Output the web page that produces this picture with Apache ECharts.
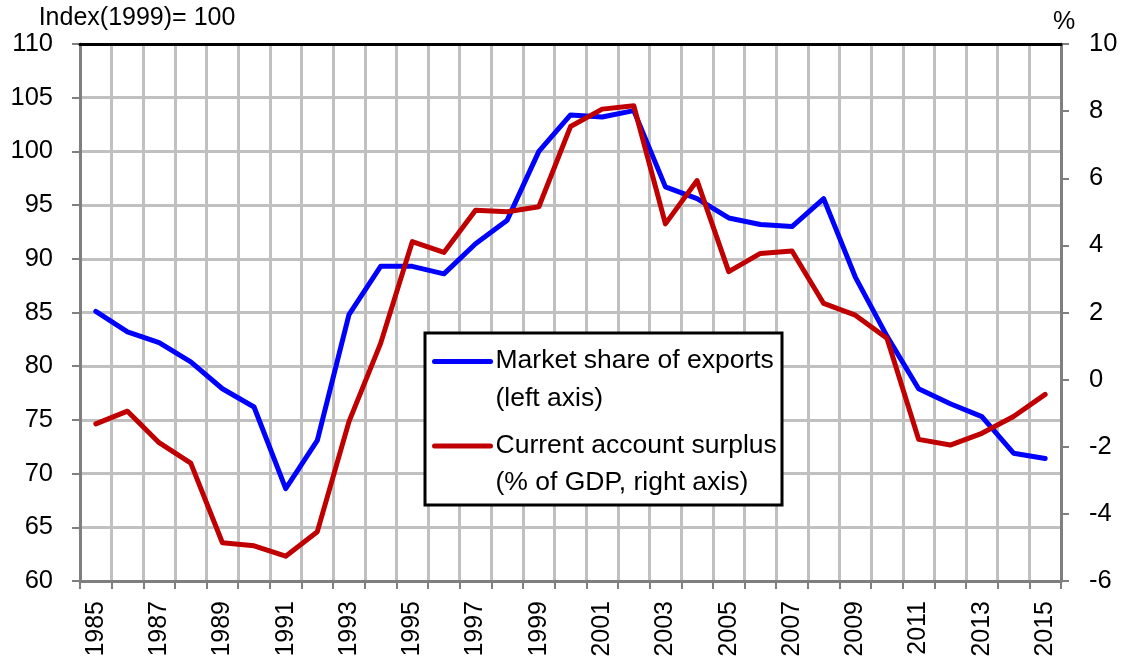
<!DOCTYPE html>
<html>
<head>
<meta charset="utf-8">
<title>Market share and current account</title>
<script src="https://cdn.jsdelivr.net/npm/echarts@6/dist/echarts.min.js"></script>
<style>
  html, body { margin: 0; padding: 0; background: #fff; }
  #chart { width: 1126px; height: 661px; }
</style>
</head>
<body>
<div id="chart"></div>
<script>
// values
var years = ["1985","1986","1987","1988","1989","1990","1991","1992","1993","1994",
  "1995","1996","1997","1998","1999","2000","2001","2002","2003","2004",
  "2005","2006","2007","2008","2009","2010","2011","2012","2013","2014","2015"];
var marketShare = [85.1, 83.2, 82.2, 80.4, 77.9, 76.2, 68.6, 73.1, 84.8, 89.3,
  89.3, 88.6, 91.4, 93.6, 100.0, 103.4, 103.2, 103.8, 96.7, 95.6,
  93.8, 93.2, 93.0, 95.6, 88.3, 82.8, 77.9, 76.5, 75.3, 71.9, 71.4];
var currentAccount = [-1.32, -0.94, -1.88, -2.49, -4.86, -4.95, -5.26, -4.53, -1.25, 1.08,
  4.11, 3.79, 5.05, 5.0, 5.15, 7.54, 8.06, 8.16, 4.64, 5.93,
  3.22, 3.76, 3.83, 2.27, 1.92, 1.23, -1.78, -1.95, -1.6, -1.1, -0.44];
var seriesNames = ["Market share of exports", "Current account surplus"];
var seriesNotes = ["(left axis)", "(% of GDP, right axis)"];

var font = "'Liberation Sans', Arial, sans-serif";
var gridGray = "#c0c0c0", axisGray = "#7f7f7f";

var chart = echarts.init(document.getElementById("chart"));

var option = {
  animation: false,
  textStyle: { fontFamily: font, color: "#000" },
  grid: {
    left: 80, right: 65, top: 44, bottom: 80,
    containLabel: false, outerBoundsMode: "none"
  },
  legend: {
    orient: "vertical",
    left: 432, top: 347.5, padding: 0,
    itemWidth: 56, itemHeight: 14, itemGap: 20,
    z: 5,
    data: seriesNames,
    itemStyle: { opacity: 0 },
    lineStyle: { width: 5, cap: "round" },
    formatter: function (name) {
      var i = seriesNames.indexOf(name);
      return "{a|" + name + "}\n{b|" + seriesNotes[i] + "}";
    },
    textStyle: {
      rich: {
        a: { fontSize: 26.5, fontFamily: font, color: "#000", lineHeight: 74 },
        b: { fontSize: 26.5, fontFamily: font, color: "#000", lineHeight: 1 }
      }
    }
  },
  graphic: [{
    type: "rect", z: 4,
    shape: { x: 425, y: 333, width: 357, height: 172 },
    style: { fill: "#fff", stroke: "#000", lineWidth: 3 }
  }],
  xAxis: [{
    type: "category",
    data: years,
    boundaryGap: true,
    axisLine: { onZero: false, lineStyle: { color: axisGray, width: 3 } },
    axisTick: { show: true, interval: 0, length: 8, lineStyle: { color: axisGray, width: 2 } },
    axisLabel: { interval: 1, rotate: 90, margin: 20, fontSize: 25, fontFamily: font, color: "#000" },
    splitLine: { show: true, interval: 0, lineStyle: { color: gridGray, width: 3 } }
  }, {
    // top edge of the plot area
    type: "category",
    data: years,
    position: "top",
    z: 1,
    axisLine: { onZero: false, lineStyle: { color: "#000", width: 3 } },
    axisTick: { show: false },
    axisLabel: { show: false },
    splitLine: { show: false }
  }],
  yAxis: [{
    type: "value",
    min: 60, max: 110, interval: 5,
    name: "Index(1999)= 100",
    nameLocation: "end",
    nameGap: 9,
    nameTextStyle: { fontSize: 25, fontFamily: font, color: "#000", padding: [0, 0, 0, 114] },
    axisLine: { show: true, lineStyle: { color: axisGray, width: 3 } },
    axisTick: { show: true, length: 8, lineStyle: { color: axisGray, width: 2 } },
    axisLabel: { margin: 27, fontSize: 25.5, fontFamily: font, color: "#000" },
    splitLine: { show: true, lineStyle: { color: gridGray, width: 3 } }
  }, {
    type: "value",
    position: "right",
    min: -6, max: 10, interval: 2,
    name: "%",
    nameLocation: "end",
    nameGap: 9,
    nameTextStyle: { fontSize: 25, fontFamily: font, color: "#000", padding: [0, 0, 0, 6] },
    axisLine: { show: true, lineStyle: { color: axisGray, width: 3 } },
    axisTick: { show: true, length: 8, lineStyle: { color: axisGray, width: 2 } },
    axisLabel: { margin: 28, fontSize: 25.5, fontFamily: font, color: "#000" },
    splitLine: { show: false }
  }],
  series: [{
    name: seriesNames[0],
    type: "line",
    yAxisIndex: 0,
    data: marketShare,
    symbol: "none",
    lineStyle: { color: "#0000ff", width: 5, cap: "round", join: "round" },
    itemStyle: { color: "#0000ff" },
    z: 3
  }, {
    name: seriesNames[1],
    type: "line",
    yAxisIndex: 1,
    data: currentAccount,
    symbol: "none",
    lineStyle: { color: "#c00000", width: 5, cap: "round", join: "round" },
    itemStyle: { color: "#c00000" },
    z: 3
  }]
};

chart.setOption(option);
</script>
</body>
</html>
